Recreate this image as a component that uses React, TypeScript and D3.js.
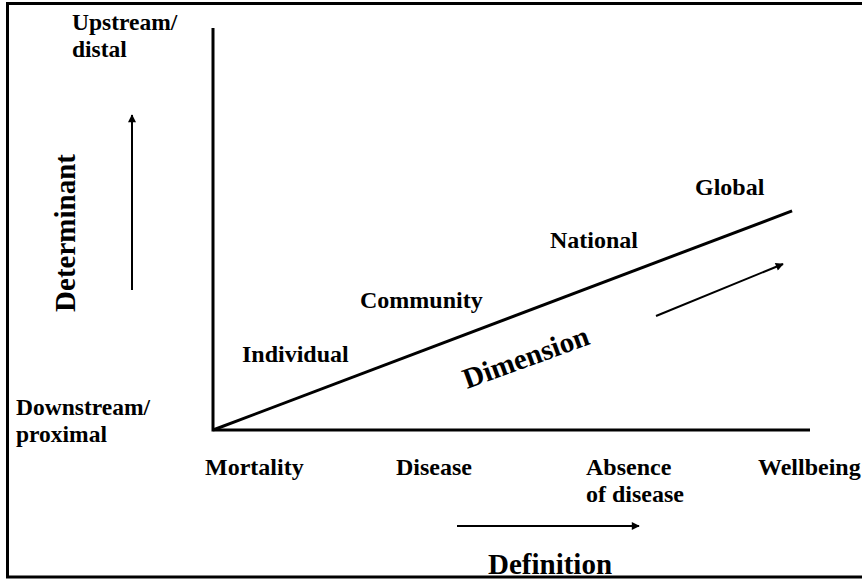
import { useEffect, useRef } from 'react'
import * as d3 from 'd3'

// definition axis (x), from worst to best
const definitions = ['Mortality', 'Disease', 'Absence\nof disease', 'Wellbeing']
// dimension levels along the diagonal
const levels = ['Individual', 'Community', 'National', 'Global']
// determinant ends (y)
const determinantEnds = ['Downstream/\nproximal', 'Upstream/\ndistal']

const axisTitles = { x: 'Definition', y: 'Determinant', diag: 'Dimension' }

const FONT = "'Liberation Serif', 'Times New Roman', Times, 'DejaVu Serif', serif"

export default function App() {
  const svgRef = useRef<SVGSVGElement | null>(null)
  const width = 863
  const height = 579

  useEffect(() => {
    if (!svgRef.current) return
    const svg = d3.select(svgRef.current)
    svg.selectAll('*').remove()

    // conceptual 0..1 axes
    const x = d3.scaleLinear().domain([0, 1]).range([213, 810])
    const y = d3.scaleLinear().domain([0, 1]).range([430, 28])

    const defs = svg.append('defs')
    defs.append('marker')
      .attr('id', 'head')
      .attr('viewBox', '0 0 10 10')
      .attr('refX', 9)
      .attr('refY', 5)
      .attr('markerWidth', 11)
      .attr('markerHeight', 8)
      .attr('markerUnits', 'userSpaceOnUse')
      .attr('orient', 'auto')
      .append('path')
      .attr('d', 'M0,0 L10,5 L0,10 Z')
      .attr('fill', '#000')

    // frame (right side is cropped in the reference)
    svg.append('path')
      .attr('d', `M862,3.5 H7.5 V577 H862`)
      .attr('fill', 'none')
      .attr('stroke', '#000')
      .attr('stroke-width', 3)

    const line = d3.line<[number, number]>()
    const g = svg.append('g').attr('stroke', '#000').attr('fill', 'none')

    // axes
    g.append('path').attr('d', line([[x(0), y(1)], [x(0), y(0)], [x(1), y(0)]])).attr('stroke-width', 3)
    // diagonal
    g.append('path').attr('d', line([[x(0), y(0)], [x(0.97), y(0.545)]])).attr('stroke-width', 3)

    // direction arrows
    const arrows: [number, number][][] = [
      [[132, 290], [132, 115]],
      [[457, 526], [639, 526]],
      [[656, 316], [783, 264]],
    ]
    arrows.forEach(a => {
      g.append('path').attr('d', line(a)).attr('stroke-width', 2).attr('marker-end', 'url(#head)')
    })

    const text = svg.append('g')
      .style('font-family', FONT)
      .style('font-weight', 'bold')
      .attr('fill', '#000')

    const multi = (label: string, tx: number, ty: number, size: number, lh: number) => {
      const t = text.append('text').attr('x', tx).attr('y', ty).style('font-size', `${size}px`)
      label.split('\n').forEach((s, i) => {
        t.append('tspan').attr('x', tx).attr('dy', i === 0 ? 0 : lh).text(s)
      })
    }

    // x categories
    const defX = [205, 396, 586, 758]
    definitions.forEach((d, i) => multi(d, defX[i], 475, 24, 27))

    // determinant ends
    multi(determinantEnds[0], 16, 415, 23.5, 27)
    multi(determinantEnds[1], 72, 30, 23.5, 27)

    // dimension levels
    const levelPos: [number, number][] = [[242, 362], [360, 308], [550, 248], [695, 195]]
    levels.forEach((l, i) => multi(l, levelPos[i][0], levelPos[i][1], 24, 0))

    // titles
    text.append('text')
      .attr('x', 550).attr('y', 574)
      .attr('text-anchor', 'middle')
      .style('font-size', '29px')
      .text(axisTitles.x)

    text.append('text')
      .attr('transform', 'translate(75,233) rotate(-90)')
      .attr('text-anchor', 'middle')
      .style('font-size', '29px')
      .text(axisTitles.y)

    text.append('text')
      .attr('transform', 'translate(467,389) rotate(-20)')
      .style('font-size', '29px')
      .text(axisTitles.diag)
  }, [])

  return (
    <svg
      ref={svgRef}
      width={width}
      height={height}
      style={{ position: 'absolute', left: 0, top: 0, background: '#fff' }}
    />
  )
}
